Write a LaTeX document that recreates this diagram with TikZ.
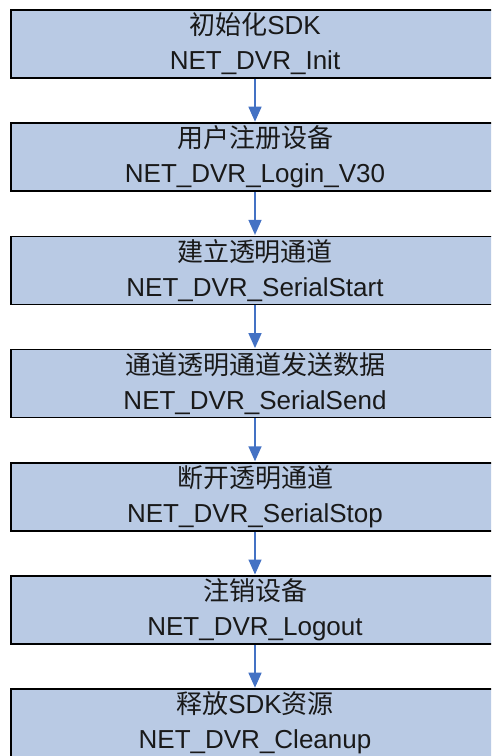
\documentclass[tikz,border=0pt]{standalone}
\usepackage{fontspec}
\setmainfont{Liberation Sans}
\newfontfamily\cjk{Noto Sans CJK SC}
\usetikzlibrary{arrows.meta}
\definecolor{boxfill}{HTML}{B9CAE4}
\definecolor{arrowblue}{HTML}{4472C4}
\tikzset{
  stepbox/.style={draw=black, line width=1.5pt, fill=boxfill, overlay,
    anchor=west, minimum width=540pt, minimum height=68pt, inner sep=0pt},
  steptext/.style={overlay, inner sep=0pt, align=center,
    font=\fontsize{26}{35}\selectfont, text=black!90},
  flowarrow/.style={draw=arrowblue, line width=1.5pt, overlay,
    -{Triangle[length=15pt,width=13pt]}, shorten >=0.75pt}
}
\begin{document}
\begin{tikzpicture}[x=1pt,y=-1pt]
\useasboundingbox (0,0) rectangle (491,756);
\clip (0,0) rectangle (491,756);
\foreach \i/\y in {1/44.0,2/157.2,3/270.4,4/383.6,5/496.8,6/610.0,7/723.2}
  \node[stepbox] (b\i) at (10,\y) {};
\node[steptext] (t1) at (255,44.0) {{\cjk 初始化}SDK\\NET\_DVR\_Init};
\node[steptext] (t2) at (255,157.2) {{\cjk 用户注册设备}\\NET\_DVR\_Login\_V30};
\node[steptext] (t3) at (255,270.4) {{\cjk 建立透明通道}\\NET\_DVR\_SerialStart};
\node[steptext] (t4) at (255,383.6) {{\cjk 通道透明通道发送数据}\\NET\_DVR\_SerialSend};
\node[steptext] (t5) at (255,496.8) {{\cjk 断开透明通道}\\NET\_DVR\_SerialStop};
\node[steptext] (t6) at (255,610.0) {{\cjk 注销设备}\\NET\_DVR\_Logout};
\node[steptext] (t7) at (255,723.2) {{\cjk 释放}SDK{\cjk 资源}\\NET\_DVR\_Cleanup};
\foreach \a/\b in {1/2,2/3,3/4,4/5,5/6,6/7}
  \draw[flowarrow] (t\a |- b\a.south) -- (t\a |- b\b.north);
\end{tikzpicture}
\end{document}
